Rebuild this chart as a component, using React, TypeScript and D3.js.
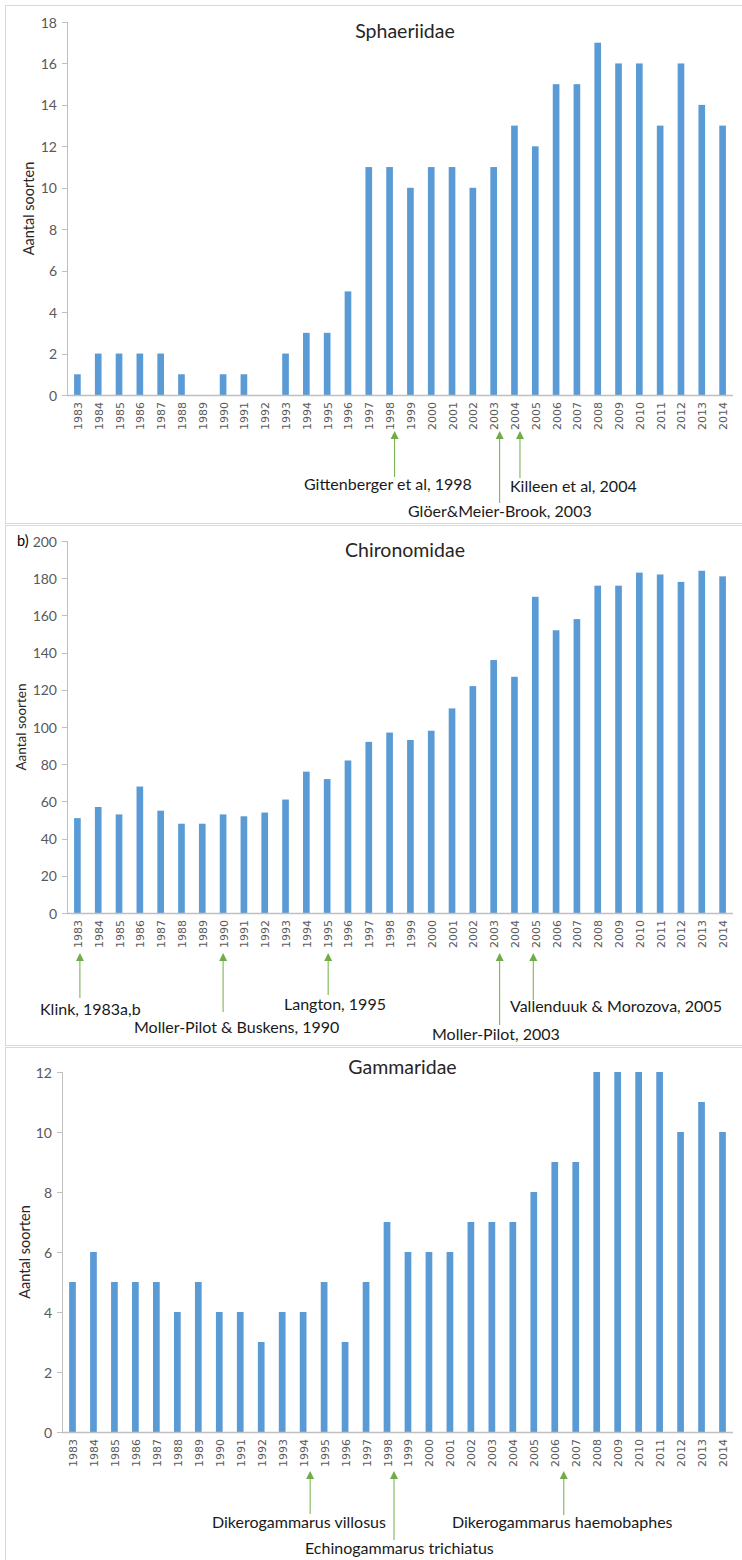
import React from "react";
import * as d3 from "d3";

// ---------- DATA ----------
const years = [
  "1983", "1984", "1985", "1986", "1987", "1988", "1989", "1990",
  "1991", "1992", "1993", "1994", "1995", "1996", "1997", "1998",
  "1999", "2000", "2001", "2002", "2003", "2004", "2005", "2006",
  "2007", "2008", "2009", "2010", "2011", "2012", "2013", "2014",
];

const sphaeriidaeCounts = [
  1, 2, 2, 2, 2, 1, 0, 1, 1, 0, 2, 3, 3, 5, 11, 11,
  10, 11, 11, 10, 11, 13, 12, 15, 15, 17, 16, 16, 13, 16, 14, 13,
];
const chironomidaeCounts = [
  51, 57, 53, 68, 55, 48, 48, 53, 52, 54, 61, 76, 72, 82, 92, 97,
  93, 98, 110, 122, 136, 127, 170, 152, 158, 176, 176, 183, 182, 178, 184, 181,
];
const gammaridaeCounts = [
  5, 6, 5, 5, 5, 4, 5, 4, 4, 3, 4, 4, 5, 3, 5, 7,
  6, 6, 6, 7, 7, 7, 8, 9, 9, 12, 12, 12, 12, 10, 11, 10,
];

const sphaeriidaeTicks = [0, 2, 4, 6, 8, 10, 12, 14, 16, 18];
const chironomidaeTicks = [0, 20, 40, 60, 80, 100, 120, 140, 160, 180, 200];
const gammaridaeTicks = [0, 2, 4, 6, 8, 10, 12];

const sphaeriidaeRefs = [
  { year: "1998", label: "Gittenberger et al, 1998" },
  { year: "2003", label: "Glöer&Meier-Brook, 2003" },
  { year: "2004", label: "Killeen et al, 2004" },
];
const chironomidaeRefs = [
  { year: "1983", label: "Klink, 1983a,b" },
  { year: "1990", label: "Moller-Pilot & Buskens, 1990" },
  { year: "1995", label: "Langton, 1995" },
  { year: "2003", label: "Moller-Pilot, 2003" },
  { year: "2005", label: "Vallenduuk & Morozova, 2005" },
];
const gammaridaeRefs = [
  { year: "1994", label: "Dikerogammarus villosus" },
  { year: "1998", label: "Echinogammarus trichiatus" },
  { year: "2006", label: "Dikerogammarus haemobaphes" },
];

// ---------- LAYOUT ----------
const panels = [
  {
    title: "Sphaeriidae",
    values: sphaeriidaeCounts,
    ticks: sphaeriidaeTicks,
    refs: sphaeriidaeRefs,
    prefix: "",
    box: { top: 5.5, bottom: 523.5 },
    plot: { x0: 67, x1: 733, yTop: 22, yBottom: 395 },
    titleY: 38,
    yLabelX: 28,
    yLabelSize: 14.5,
    arrowTip: 431,
    refLayout: [
      { dx: 5, lineEnd: 477, tx: 304, ty: 490 },
      { dx: 6, lineEnd: 503, tx: 408, ty: 517 },
      { dx: 5.5, lineEnd: 478, tx: 510, ty: 492 },
    ],
  },
  {
    title: "Chironomidae",
    values: chironomidaeCounts,
    ticks: chironomidaeTicks,
    refs: chironomidaeRefs,
    prefix: "b)",
    box: { top: 525.5, bottom: 1045.5 },
    plot: { x0: 67, x1: 733, yTop: 541, yBottom: 913 },
    titleY: 557,
    yLabelX: 21,
    yLabelSize: 13.5,
    arrowTip: 953,
    refLayout: [
      { dx: 2.5, lineEnd: 998, tx: 40, ty: 1015 },
      { dx: 0, lineEnd: 1012, tx: 134, ty: 1033 },
      { dx: 1, lineEnd: 995, tx: 284, ty: 1010 },
      { dx: 6, lineEnd: 1025, tx: 432, ty: 1040 },
      { dx: -2, lineEnd: 1000, tx: 510, ty: 1012 },
    ],
  },
  {
    title: "Gammaridae",
    values: gammaridaeCounts,
    ticks: gammaridaeTicks,
    refs: gammaridaeRefs,
    prefix: "",
    box: { top: 1047.5, bottom: 1580 },
    plot: { x0: 62, x1: 733, yTop: 1072, yBottom: 1432 },
    titleY: 1074,
    yLabelX: 24,
    yLabelSize: 14.5,
    arrowTip: 1471,
    refLayout: [
      { dx: 7, lineEnd: 1514, tx: 212, ty: 1528 },
      { dx: 7, lineEnd: 1540, tx: 305, ty: 1554 },
      { dx: 9, lineEnd: 1515, tx: 452, ty: 1528 },
    ],
  },
];

const W = 742;
const H = 1560;
const BAR = "#5B9BD5";
const GREEN = "#70AD47";
const AXIS = "#BFBFBF";
const TICKTXT = "#595959";
const FONT = "Lato, 'Open Sans', sans-serif";
const XFONT = "'DejaVu Sans', Verdana, sans-serif";

function Panel({ p }: { p: (typeof panels)[number] }) {
  const { plot } = p;
  const x = d3
    .scaleBand<string>()
    .domain(years)
    .range([plot.x0, plot.x1])
    .paddingInner(0.68)
    .paddingOuter(0.34);
  const yMax = p.ticks[p.ticks.length - 1];
  const y = d3.scaleLinear().domain([0, yMax]).range([plot.yBottom, plot.yTop]);
  const cy = (plot.yTop + plot.yBottom) / 2;
  const cx = (plot.x0 + plot.x1) / 2;

  return (
    <g>
      <rect
        x={5.5}
        y={p.box.top}
        width={740}
        height={p.box.bottom - p.box.top}
        fill="#fff"
        stroke="#D9D9D9"
        strokeWidth={1}
      />
      {/* title */}
      <text x={cx + 5} y={p.titleY} textAnchor="middle" fontFamily={FONT} fontSize={19.5} fill="#262626">
        {p.title}
      </text>
      {p.prefix && (
        <text x={17} y={p.plot.yTop + 5} fontFamily={FONT} fontSize={14.5} fill="#000">
          {p.prefix}
        </text>
      )}
      {/* y axis label */}
      <text
        transform={`translate(${p.yLabelX},${cy}) rotate(-90)`}
        textAnchor="middle"
        dominantBaseline="central"
        fontFamily={FONT}
        fontSize={p.yLabelSize}
        fill="#262626"
      >
        Aantal soorten
      </text>
      {/* y axis */}
      <line x1={plot.x0 + 0.5} x2={plot.x0 + 0.5} y1={plot.yTop} y2={plot.yBottom} stroke={AXIS} />
      {p.ticks.map((t) => (
        <g key={t}>
          <line
            x1={plot.x0 - 5}
            x2={plot.x0}
            y1={Math.round(y(t)) + 0.5}
            y2={Math.round(y(t)) + 0.5}
            stroke={AXIS}
          />
          <text
            x={plot.x0 - 10}
            y={y(t)}
            textAnchor="end"
            dominantBaseline="central"
            fontFamily={FONT}
            fontSize={14}
            fill={TICKTXT}
          >
            {t}
          </text>
        </g>
      ))}
      {/* bars */}
      {p.values.map((v, i) => (
        <rect
          key={years[i]}
          x={x(years[i])}
          y={y(v)}
          width={x.bandwidth()}
          height={plot.yBottom - y(v)}
          fill={BAR}
        />
      ))}
      {/* x axis */}
      <line x1={plot.x0} x2={plot.x1} y1={plot.yBottom + 0.5} y2={plot.yBottom + 0.5} stroke={AXIS} strokeWidth={1.6} />
      {years.map((yr) => {
        const xc = (x(yr) as number) + x.bandwidth() / 2;
        return (
          <text
            key={yr}
            transform={`translate(${xc + 1},${plot.yBottom + 7}) rotate(-90)`}
            textAnchor="end"
            dominantBaseline="central"
            fontFamily={XFONT}
            fontSize={11}
            fill={TICKTXT}
          >
            {yr}
          </text>
        );
      })}
      {/* reference arrows */}
      {p.refs.map((r, i) => {
        const L = p.refLayout[i];
        const ax = (x(r.year) as number) + x.bandwidth() / 2 + L.dx;
        const tip = p.arrowTip;
        return (
          <g key={r.label}>
            <line x1={ax} x2={ax} y1={tip + 6} y2={L.lineEnd} stroke={GREEN} strokeWidth={1} />
            <path d={`M${ax},${tip} L${ax - 4},${tip + 8} L${ax + 4},${tip + 8} Z`} fill={GREEN} />
            <text x={L.tx} y={L.ty} fontFamily={FONT} fontSize={16} fill="#1a1a1a">
              {r.label}
            </text>
          </g>
        );
      })}
    </g>
  );
}

export default function App() {
  return (
    <div style={{ position: "fixed", left: 0, top: 0, width: W, height: H, overflow: "hidden", background: "#fff" }}>
      <svg width={W} height={H} viewBox={`0 0 ${W} ${H}`} style={{ display: "block" }}>
        <rect x={0} y={0} width={W} height={H} fill="#fff" />
        {panels.map((p) => (
          <Panel key={p.title} p={p} />
        ))}
      </svg>
    </div>
  );
}
